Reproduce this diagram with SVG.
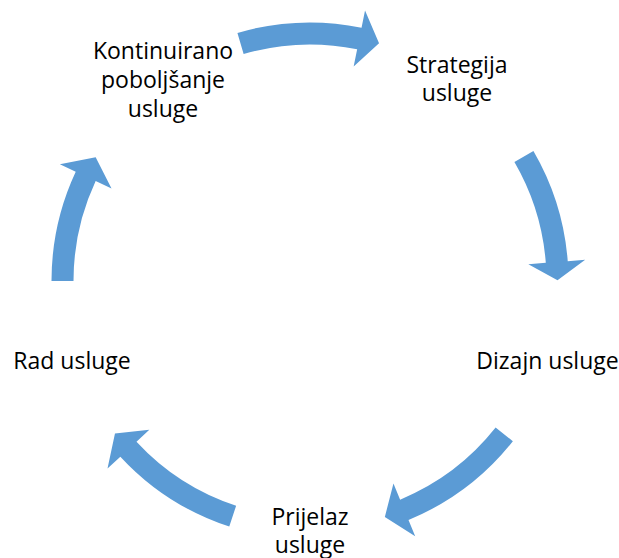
<svg xmlns="http://www.w3.org/2000/svg" width="619" height="558" viewBox="0 0 619 558">
<style>
.arr{fill:#5B9BD5;stroke:none}
.lbl{font-family:"Open Sans","Liberation Sans",sans-serif;font-size:23px;fill:#000;text-anchor:middle}
</style>
<rect width="619" height="558" fill="#fff"/>
<g id="connectors">
<path class="arr" d="M237.44,32.9 A258.5,258.5 0 0 1 361.54,27.7 L365.03,10.55 L379.05,43.33 L353.67,66.4 L357.16,49.25 A236.5,236.5 0 0 0 243.61,54.01 Z"/>
<path class="arr" d="M533.42,150.97 A258.5,258.5 0 0 1 567.74,261.17 L585.19,259.83 L557.5,280.14 L528.35,264.2 L545.8,262.86 A236.5,236.5 0 0 0 514.41,162.04 Z"/>
<path class="arr" d="M512.87,441.22 A258.5,258.5 0 0 1 408.51,519.98 L415.18,536.16 L384.84,516.92 L393.46,483.47 L400.13,499.64 A236.5,236.5 0 0 0 495.61,427.58 Z"/>
<path class="arr" d="M229.27,526.58 A258.5,258.5 0 0 1 120.34,456.63 L107.5,468.51 L114.97,433.39 L149.32,429.79 L136.48,441.68 A236.5,236.5 0 0 0 236.14,505.68 Z"/>
<path class="arr" d="M51.5,281 A258.5,258.5 0 0 1 75.72,171.76 L59.86,164.36 L95.66,157.25 L111.52,188.45 L95.66,181.06 A236.5,236.5 0 0 0 73.5,281 Z"/>
</g>
<g id="node-strategija">
<text class="lbl" x="457" y="72.5">Strategija</text>
<text class="lbl" x="457" y="101">usluge</text>
</g>
<g id="node-dizajn">
<text class="lbl" x="547.5" y="369">Dizajn usluge</text>
</g>
<g id="node-prijelaz">
<text class="lbl" x="310" y="525">Prijelaz</text>
<text class="lbl" x="310" y="553">usluge</text>
</g>
<g id="node-rad">
<text class="lbl" x="72" y="369">Rad usluge</text>
</g>
<g id="node-kontinuirano">
<text class="lbl" x="163" y="58.5">Kontinuirano</text>
<text class="lbl" x="163" y="87.5">poboljšanje</text>
<text class="lbl" x="163" y="116.5">usluge</text>
</g>
</svg>
